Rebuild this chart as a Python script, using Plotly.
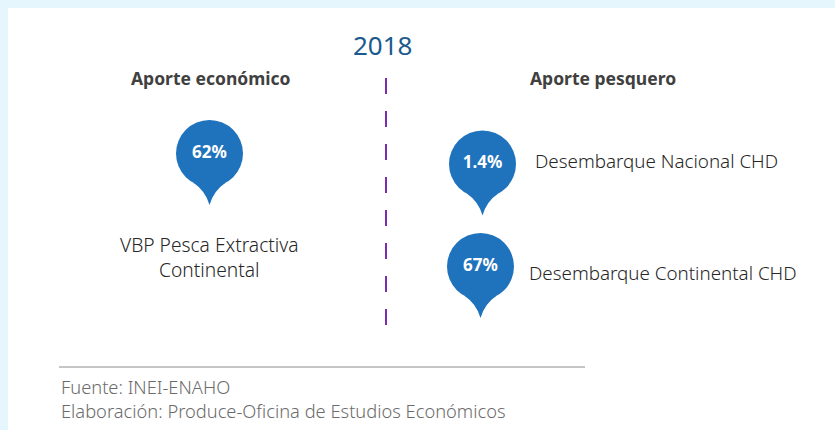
import math
import plotly.graph_objects as go

# ---- data ----
year_label = "2018"
section_titles = ["Aporte económico", "Aporte pesquero"]
pin_values = [62, 1.4, 67]
pin_value_text = ["62%", "1.4%", "67%"]
pin_labels = ["VBP Pesca Extractiva<br>Continental", "Desembarque Nacional CHD", "Desembarque Continental CHD"]
source_lines = ["Fuente: INEI-ENAHO", "Elaboración: Produce-Oficina de Estudios Económicos"]

# ---- layout constants (pixel space) ----
W, H = 835, 430
BG = "#E6F6FD"
PIN = "#1F73BD"
FONT = "Noto Sans"

pin_centers = [(209.5, 153.5), (482.5, 164.0), (480.5, 266.5)]
R = 33.5
TAIL = 18

label_pos = [(209, 257, "center"), (533, 161, "left"), (527, 273, "left")]

fig = go.Figure()

shapes = []
# white panel
shapes.append(dict(type="rect", xref="x", yref="y", x0=8, y0=8, x1=W + 2, y1=H + 2,
                   fillcolor="white", line=dict(width=0), layer="below"))

def pin_path(cx, cy, r, tail):
    a = math.radians(28)
    lx, ly = cx - r * math.sin(a), cy + r * math.cos(a)
    rx, ry = cx + r * math.sin(a), cy + r * math.cos(a)
    tx, ty = cx, cy + r + tail
    return (f"M {lx:.2f},{ly:.2f} Q {cx-4:.2f},{cy+r+4:.2f} {tx:.2f},{ty:.2f} "
            f"Q {cx+4:.2f},{cy+r+4:.2f} {rx:.2f},{ry:.2f} Z")

for (cx, cy) in pin_centers:
    shapes.append(dict(type="circle", xref="x", yref="y", x0=cx - R, x1=cx + R, y0=cy - R, y1=cy + R,
                       fillcolor=PIN, line=dict(width=0), layer="below"))
    shapes.append(dict(type="path", xref="x", yref="y", path=pin_path(cx, cy, R, TAIL),
                       fillcolor=PIN, line=dict(width=0), layer="below"))

# dashed divider
shapes.append(dict(type="line", xref="x", yref="y", x0=386, x1=386, y0=78, y1=327,
                   line=dict(color="#7A2DB0", width=2, dash="16px,17px")))
# footer rule
shapes.append(dict(type="line", xref="x", yref="y", x0=59, x1=585, y0=367, y1=367,
                   line=dict(color="#8C8C8C", width=1)))

# pin values as a text trace
fig.add_trace(go.Scatter(
    x=[c[0] for c in pin_centers], y=[c[1] for c in pin_centers],
    text=pin_value_text, customdata=pin_values, mode="text",
    textfont=dict(family=FONT, size=17, color="white", weight="bold"),
    hoverinfo="skip", showlegend=False))

annotations = []
annotations.append(dict(x=383, y=45, text=year_label, showarrow=False, xref="x", yref="y",
                        font=dict(family=FONT, size=26, color="#1A5A8E")))
for t, x in zip(section_titles, [211, 603]):
    annotations.append(dict(x=x, y=78, text=f"<b>{t}</b>", showarrow=False, xref="x", yref="y",
                            font=dict(family=FONT, size=17.5, color="#404040")))
label_sizes = [19.2, 18.8, 18.8]
for lab, (x, y, anc), fs in zip(pin_labels, label_pos, label_sizes):
    annotations.append(dict(x=x, y=y, text=lab, showarrow=False, xref="x", yref="y",
                            xanchor=anc, align="center",
                            font=dict(family=FONT, size=fs, color="#262626", weight=300)))
for i, s in enumerate(source_lines):
    annotations.append(dict(x=59, y=386 + 24 * i, text=s, showarrow=False, xref="x", yref="y",
                            xanchor="left", font=dict(family=FONT, size=18.3, color="#6B6B6B", weight=300)))

fig.update_layout(
    width=W, height=H, margin=dict(l=0, r=0, t=0, b=0),
    paper_bgcolor=BG, plot_bgcolor=BG,
    xaxis=dict(range=[0, W], visible=False, fixedrange=True),
    yaxis=dict(range=[H, 0], visible=False, fixedrange=True),
    shapes=shapes, annotations=annotations,
)

fig.write_html("out.html", config={"displayModeBar": False},
               post_script="document.body.style.margin='0';document.body.style.overflow='hidden';")
